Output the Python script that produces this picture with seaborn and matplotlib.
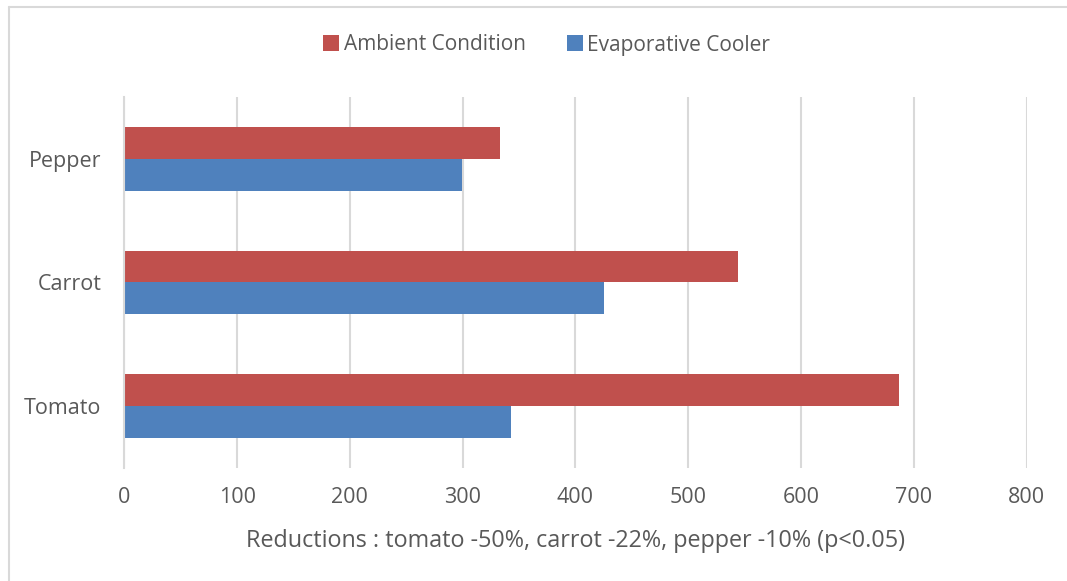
import matplotlib
matplotlib.use("Agg")
import matplotlib.pyplot as plt
import seaborn as sns
import pandas as pd
from matplotlib.lines import Line2D

# Storage life data per crop and storage condition
crops = ["Pepper", "Carrot", "Tomato"]
ambient = [333, 544, 687]
cooler = [299, 425, 343]
series_names = ["Ambient Condition", "Evaporative Cooler"]
x_ticks = [0, 100, 200, 300, 400, 500, 600, 700, 800]
x_label = "Reductions : tomato -50%, carrot -22%, pepper -10% (p<0.05)"

colors = {"Ambient Condition": "#C0504D", "Evaporative Cooler": "#4F81BD"}
text_color = "#595959"
grid_color = "#D9D9D9"

df = pd.DataFrame({
    "crop": crops * 2,
    "value": ambient + cooler,
    "condition": [series_names[0]] * len(crops) + [series_names[1]] * len(crops),
})

sns.set_theme(style="white")
plt.rcParams["font.family"] = ["Open Sans", "DejaVu Sans"]

fig = plt.figure(figsize=(10.67, 5.81), dpi=100)
ax = fig.add_axes([0.1165, 0.1945, 0.8457, 0.6386])

sns.barplot(
    data=df, y="crop", x="value", hue="condition",
    order=crops, hue_order=series_names, palette=colors,
    orient="h", width=0.516, linewidth=0, saturation=1,
    legend=False, ax=ax,
)

ax.set_xlim(0, 800)
ax.set_ylim(2.5, -0.5)
ax.set_xticks(x_ticks)
ax.set_xticklabels([str(t) for t in x_ticks])
ax.xaxis.grid(True, color=grid_color, linewidth=1.5)
ax.yaxis.grid(False)
ax.set_axisbelow(True)
for side in ["top", "right", "bottom"]:
    ax.spines[side].set_visible(False)
ax.spines["left"].set_color(grid_color)
ax.spines["left"].set_linewidth(1.5)
ax.tick_params(axis="both", length=0, labelsize=15.5, colors=text_color)
ax.tick_params(axis="x", pad=14)
ax.tick_params(axis="y", pad=16.5)
ax.set_ylabel("")
ax.set_xlabel(x_label, fontsize=16.8, color=text_color, labelpad=15)

handles = [
    Line2D([0], [0], marker="s", linestyle="none", markersize=11,
           markerfacecolor=colors[n], markeredgewidth=0, label=n)
    for n in series_names
]
fig.legend(
    handles=handles, loc="center", bbox_to_anchor=(546 / 1067, 1 - 45 / 581),
    ncol=2, frameon=False, fontsize=15, labelcolor=text_color,
    handletextpad=0.15, columnspacing=1.9, handlelength=0.9,
)

# Chart frame edges along the top and left
fig.add_artist(Line2D([9 / 1067, 1.0], [1 - 7 / 581, 1 - 7 / 581],
                      transform=fig.transFigure, color="#D9D9D9", linewidth=1.5))
fig.add_artist(Line2D([9 / 1067, 9 / 1067], [0.0, 1 - 7 / 581],
                      transform=fig.transFigure, color="#D9D9D9", linewidth=1.5))

fig.savefig("out.png", dpi=100, facecolor="white")
